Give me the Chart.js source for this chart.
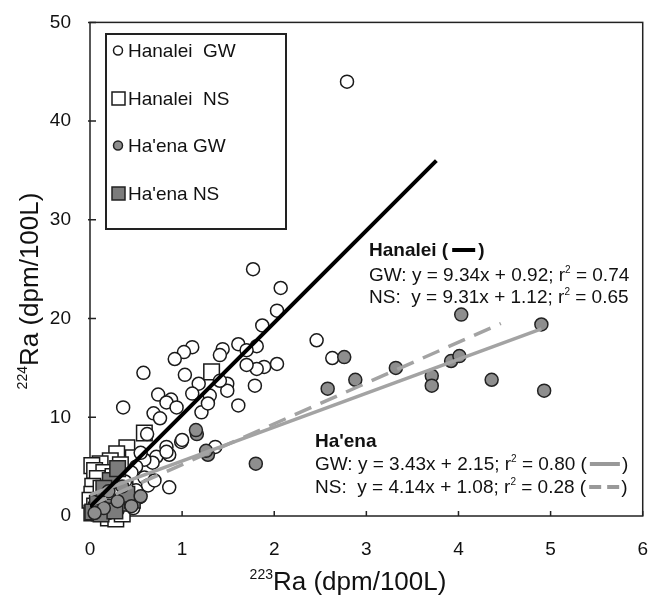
<!DOCTYPE html>
<html>
<head>
<meta charset="utf-8">
<script src="https://cdn.jsdelivr.net/npm/chart.js@4.4.0/dist/chart.umd.min.js"></script>
<style>
  html, body { margin: 0; padding: 0; background: #fff; }
</style>
</head>
<body>
<canvas id="chart" width="662" height="595"></canvas>
<script>
// tick labels
const xTicks = [0, 1, 2, 3, 4, 5, 6];
const yTicks = [0, 10, 20, 30, 40, 50];

// 223Ra (x) vs 224Ra (y), dpm/100L
const hanaleiGW = [
  [2.79, 44.0], [1.77, 25.0], [2.07, 23.1], [2.03, 20.8], [1.87, 19.3], [1.61, 17.4],
  [1.81, 17.2], [1.70, 16.8], [1.44, 16.9], [1.41, 16.3], [1.11, 17.1], [1.02, 16.6],
  [0.92, 15.9], [0.58, 14.5], [2.03, 15.4], [1.89, 15.1], [1.81, 14.9], [1.70, 15.3],
  [1.79, 13.2], [1.49, 13.4], [1.49, 12.7], [1.03, 14.3], [1.18, 13.4], [1.30, 12.2],
  [1.11, 12.4], [0.74, 12.3], [0.88, 11.8], [0.36, 11.0], [0.83, 11.5], [0.94, 11.0],
  [0.69, 10.4], [0.76, 9.9], [1.21, 10.5], [1.28, 11.4], [1.41, 13.7], [1.61, 11.2],
  [2.46, 17.8], [2.63, 16.0], [0.99, 7.5], [0.83, 7.0], [0.86, 6.2], [0.72, 6.0],
  [0.68, 5.4], [0.59, 3.9], [0.63, 3.1], [0.86, 2.9], [0.54, 1.9], [0.47, 0.8],
  [1.36, 7.0], [1.00, 7.7], [0.83, 6.5], [0.59, 5.7], [0.50, 5.0], [0.45, 4.4],
  [0.38, 3.5], [0.30, 2.6], [0.22, 1.8], [0.12, 1.1], [0.06, 0.5], [0.55, 6.4],
  [0.40, 1.2], [0.30, 0.6], [0.70, 3.6], [0.50, 2.6], [0.20, 0.3], [0.62, 8.3]
];
const hanaleiNS = [
  [1.32, 14.6], [0.59, 8.4], [0.40, 6.9], [0.29, 6.3], [0.22, 5.6], [0.11, 5.3],
  [0.02, 5.1], [0.05, 4.6], [0.47, 5.9], [0.15, 4.4], [0.08, 3.8], [0.03, 3.0],
  [0.02, 2.2], [0.00, 1.6], [0.05, 1.0], [0.10, 0.3], [0.20, -0.2], [0.28, -0.3],
  [0.35, 0.2], [0.25, 4.0], [0.33, 5.2], [0.12, 2.8], [0.18, 1.5], [0.07, 0.6],
  [0.38, 3.2], [0.02, 0.3]
];
const haenaGW = [
  [4.03, 20.4], [4.90, 19.4], [2.76, 16.1], [2.58, 12.9], [2.88, 13.8], [3.32, 15.0],
  [3.71, 14.2], [3.71, 13.2], [3.92, 15.7], [4.01, 16.2], [4.36, 13.8], [4.93, 12.7],
  [1.16, 8.3], [1.15, 8.7], [1.80, 5.3], [1.28, 6.2], [1.26, 6.6], [0.45, 1.0],
  [0.30, 1.5], [0.15, 0.8], [0.55, 2.0], [0.05, 0.3], [0.20, 2.5], [0.35, 3.0]
];
const haenaNS = [
  [0.22, 0.9], [0.35, 1.3], [0.46, 1.6], [0.22, 3.6], [0.30, 4.8], [0.08, 1.3],
  [0.03, 0.4], [0.12, 0.2], [0.40, 2.2], [0.15, 2.8], [0.27, 0.5]
];

// regression line end points
const hanaleiFit = [[0, 0.92], [3.76, 36.0]];
const haenaGWFit = [[0, 2.15], [4.90, 18.96]];
const haenaNSFit = [[0, 1.08], [4.46, 19.5]];

const FONT = '"Liberation Sans", Arial, Helvetica, sans-serif';
const pts = arr => arr.map(([x, y]) => ({ x, y }));

function richText(ctx, x, y, parts, size, weight) {
  ctx.textAlign = 'left';
  ctx.textBaseline = 'alphabetic';
  for (const [t, sup] of parts) {
    if (sup) {
      ctx.font = `${weight || ''} ${Math.round(size * 0.55)}px ${FONT}`;
      ctx.fillText(t, x, y - size * 0.42);
    } else {
      ctx.font = `${weight || ''} ${size}px ${FONT}`;
      ctx.fillText(t, x, y);
    }
    x += ctx.measureText(t).width;
  }
  return x;
}

function richWidth(ctx, parts, size) {
  let w = 0;
  for (const [t, sup] of parts) {
    ctx.font = `${sup ? Math.round(size * 0.55) : size}px ${FONT}`;
    w += ctx.measureText(t).width;
  }
  return w;
}

function dash(ctx, x1, x2, y, color, width, pattern) {
  ctx.save();
  ctx.strokeStyle = color;
  ctx.lineWidth = width;
  ctx.setLineDash(pattern || []);
  ctx.beginPath();
  ctx.moveTo(x1, y);
  ctx.lineTo(x2, y);
  ctx.stroke();
  ctx.restore();
}

const decor = {
  id: 'decor',
  beforeDatasetsDraw(chart) {
    const { ctx, chartArea: a, scales } = chart;
    ctx.save();
    ctx.strokeStyle = '#222';
    ctx.lineWidth = 1.5;
    ctx.strokeRect(a.left, a.top, a.right - a.left, a.bottom - a.top);
    ctx.beginPath();
    scales.x.ticks.forEach(t => {
      const px = scales.x.getPixelForValue(t.value);
      ctx.moveTo(px, a.bottom);
      ctx.lineTo(px, a.bottom - 5);
    });
    scales.y.ticks.forEach(t => {
      const py = scales.y.getPixelForValue(t.value);
      ctx.moveTo(a.left - 2, py);
      ctx.lineTo(a.left + 6, py);
    });
    ctx.stroke();
    ctx.restore();
  },
  afterDraw(chart) {
    const { ctx } = chart;
    ctx.save();
    ctx.fillStyle = '#111';

    // legend box
    ctx.strokeStyle = '#222';
    ctx.lineWidth = 2;
    ctx.strokeRect(106, 34, 180, 195);
    const ds = chart.data.datasets;
    const rows = [
      { label: 'Hanalei  GW', d: ds[0], y: 57 },
      { label: 'Hanalei  NS', d: ds[1], y: 105 },
      { label: "Ha'ena GW", d: ds[2], y: 152 },
      { label: "Ha'ena NS", d: ds[3], y: 200 }
    ];
    rows.forEach(r => {
      ctx.fillStyle = r.d.backgroundColor;
      ctx.strokeStyle = r.d.borderColor;
      ctx.lineWidth = 1.5;
      if (r.d.pointStyle === 'rect') {
        ctx.fillRect(112, r.y - 13, 13, 13);
        ctx.strokeRect(112, r.y - 13, 13, 13);
      } else {
        ctx.beginPath();
        ctx.arc(118, r.y - 6.5, 4.5, 0, Math.PI * 2);
        ctx.fill();
        ctx.stroke();
      }
      ctx.fillStyle = '#111';
      richText(ctx, 128, r.y, [[r.label]], 19);
    });

    // equations
    const fs = 19;
    let x = richText(ctx, 369, 256, [['Hanalei (']], fs, 'bold');
    dash(ctx, x + 4, x + 27, 250, '#000', 4);
    richText(ctx, x + 30, 256, [[')']], fs, 'bold');
    richText(ctx, 369, 281, [['GW: y = 9.34x + 0.92; r'], ['2', 1], [' = 0.74']], fs);
    richText(ctx, 369, 303, [['NS:  y = 9.31x + 1.12; r'], ['2', 1], [' = 0.65']], fs);

    richText(ctx, 315, 447, [["Ha'ena"]], fs, 'bold');
    x = richText(ctx, 315, 470, [['GW: y = 3.43x + 2.15; r'], ['2', 1], [' = 0.80 (']], fs);
    dash(ctx, x + 3, x + 33, 464, '#999', 4);
    richText(ctx, x + 35, 470, [[')']], fs);
    x = richText(ctx, 315, 493, [['NS:  y = 4.14x + 1.08; r'], ['2', 1], [' = 0.28 (']], fs);
    dash(ctx, x + 3, x + 33, 487, '#999', 4, [12, 6]);
    richText(ctx, x + 35, 493, [[')']], fs);

    // axis titles
    ctx.fillStyle = '#111';
    const ts = 26;
    const xParts = [['223', 1], ['Ra (dpm/100L)']];
    const w = richWidth(ctx, xParts, ts);
    richText(ctx, 348 - w / 2, 590, xParts, ts);

    ctx.translate(38, 291);
    ctx.rotate(-Math.PI / 2);
    richText(ctx, -w / 2, 0, [['224', 1], ['Ra (dpm/100L)']], ts);
    ctx.restore();
  }
};

const pointBase = { showLine: false, clip: false };

new Chart(document.getElementById('chart').getContext('2d'), {
  type: 'scatter',
  data: {
    datasets: [
      { ...pointBase, label: 'Hanalei GW', data: pts(hanaleiGW), pointStyle: 'circle', pointRadius: 6.5,
        backgroundColor: '#ffffff', borderColor: '#1a1a1a', borderWidth: 1.5, order: 3 },
      { ...pointBase, label: 'Hanalei NS', data: pts(hanaleiNS), pointStyle: 'rect', pointRadius: 11,
        backgroundColor: '#ffffff', borderColor: '#1a1a1a', borderWidth: 1.5, order: 4 },
      { ...pointBase, label: "Ha'ena GW", data: pts(haenaGW), pointStyle: 'circle', pointRadius: 6.5,
        backgroundColor: '#8e8e8e', borderColor: '#222222', borderWidth: 1.5, order: 1 },
      { ...pointBase, label: "Ha'ena NS", data: pts(haenaNS), pointStyle: 'rect', pointRadius: 11,
        backgroundColor: '#7c7c7c', borderColor: '#222222', borderWidth: 1.5, order: 2 },
      { label: 'Hanalei fit', data: pts(hanaleiFit), showLine: true, pointRadius: 0,
        borderColor: '#000', borderWidth: 4, order: 0 },
      { label: "Ha'ena GW fit", data: pts(haenaGWFit), showLine: true, pointRadius: 0,
        borderColor: '#a3a3a3', borderWidth: 3.5, order: 0 },
      { label: "Ha'ena NS fit", data: pts(haenaNSFit), showLine: true, pointRadius: 0,
        borderColor: '#a3a3a3', borderWidth: 3.5, borderDash: [18, 10], order: 0 }
    ]
  },
  options: {
    responsive: false,
    animation: false,
    layout: { padding: { top: 21, right: 17, left: 0, bottom: 0 } },
    plugins: { legend: { display: false }, tooltip: { enabled: false } },
    scales: {
      x: {
        type: 'linear', min: 0, max: 6,
        afterBuildTicks: s => { s.ticks = xTicks.map(v => ({ value: v })); },
        afterFit: s => { s.height = 79; },
        grid: { display: false },
        border: { display: false },
        ticks: { font: { family: FONT, size: 19 }, color: '#111', padding: 14 }
      },
      y: {
        type: 'linear', min: 0, max: 50,
        afterBuildTicks: s => { s.ticks = yTicks.map(v => ({ value: v })); },
        afterFit: s => { s.width = 90; },
        grid: { display: false },
        border: { display: false },
        ticks: { font: { family: FONT, size: 19 }, color: '#111', padding: 11 }
      }
    }
  },
  plugins: [decor]
});
</script>
</body>
</html>
